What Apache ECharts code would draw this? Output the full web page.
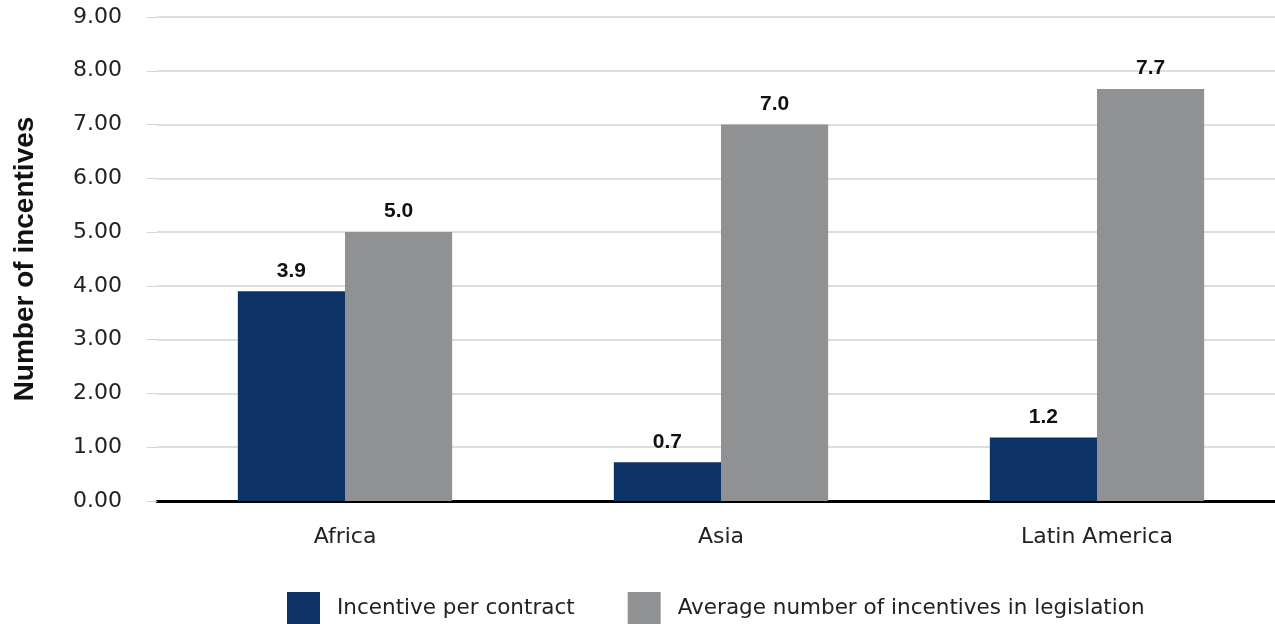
<!DOCTYPE html>
<html><head><meta charset="utf-8">
<script src="https://cdn.jsdelivr.net/npm/echarts@6/dist/echarts.min.js"></script>
<style>html,body{margin:0;padding:0;background:#fff}#c{width:1275px;height:624px}</style>
</head><body><div id="c"></div>
<script>
const categories = ['Africa', 'Asia', 'Latin America'];
const seriesNames = ['Incentive per contract', 'Average number of incentives in legislation'];
const incentivePerContract = [3.9, 0.72, 1.18];
const avgInLegislation = [5.0, 7.0, 7.66];
const yTicks = [0, 1, 2, 3, 4, 5, 6, 7, 8, 9];

const chart = echarts.init(document.getElementById('c'));
const font = '"DejaVu Sans", sans-serif';
const boldFont = '"Liberation Sans", Arial, sans-serif';
const label = {
  show: true, position: 'top', distance: 10,
  formatter: p => p.value.toFixed(1),
  fontFamily: boldFont, fontWeight: 'bold', fontSize: 21, color: '#111'
};
chart.setOption({
  animation: false,
  textStyle: {fontFamily: font},
  grid: {left: 157, top: 17, width: 1128, height: 484, containLabel: false, outerBoundsMode: 'none'},
  legend: {
    top: 587, left: 282, itemWidth: 33, itemHeight: 33, itemGap: 53, icon: 'rect',
    textStyle: {fontSize: 21.5, color: '#222', fontFamily: font, padding: [0, 0, 0, 12]},
    data: seriesNames
  },
  xAxis: {
    type: 'category', data: categories,
    axisLine: {lineStyle: {color: '#000', width: 3}},
    axisTick: {show: false},
    axisLabel: {fontSize: 22, color: '#222', margin: 25, fontFamily: font}
  },
  yAxis: {
    type: 'value', min: yTicks[0], max: yTicks[yTicks.length - 1], interval: 1,
    name: 'Number of incentives', nameLocation: 'middle', nameGap: 118,
    nameTextStyle: {fontSize: 28, fontWeight: 'bold', color: '#111', fontFamily: boldFont},
    axisLine: {show: false},
    axisTick: {show: true, length: 10, lineStyle: {color: '#d3d3d3'}},
    splitLine: {lineStyle: {color: '#d3d3d3', width: 1.5}},
    axisLabel: {fontSize: 22, color: '#222', margin: 35, fontFamily: font, formatter: v => v.toFixed(2)}
  },
  series: [
    {name: seriesNames[0], type: 'bar', data: incentivePerContract, barWidth: '28.5%', barGap: '0%',
     itemStyle: {color: '#0c3266'}, label},
    {name: seriesNames[1], type: 'bar', data: avgInLegislation, barWidth: '28.5%',
     itemStyle: {color: '#909192'}, label}
  ]
});
</script></body></html>
